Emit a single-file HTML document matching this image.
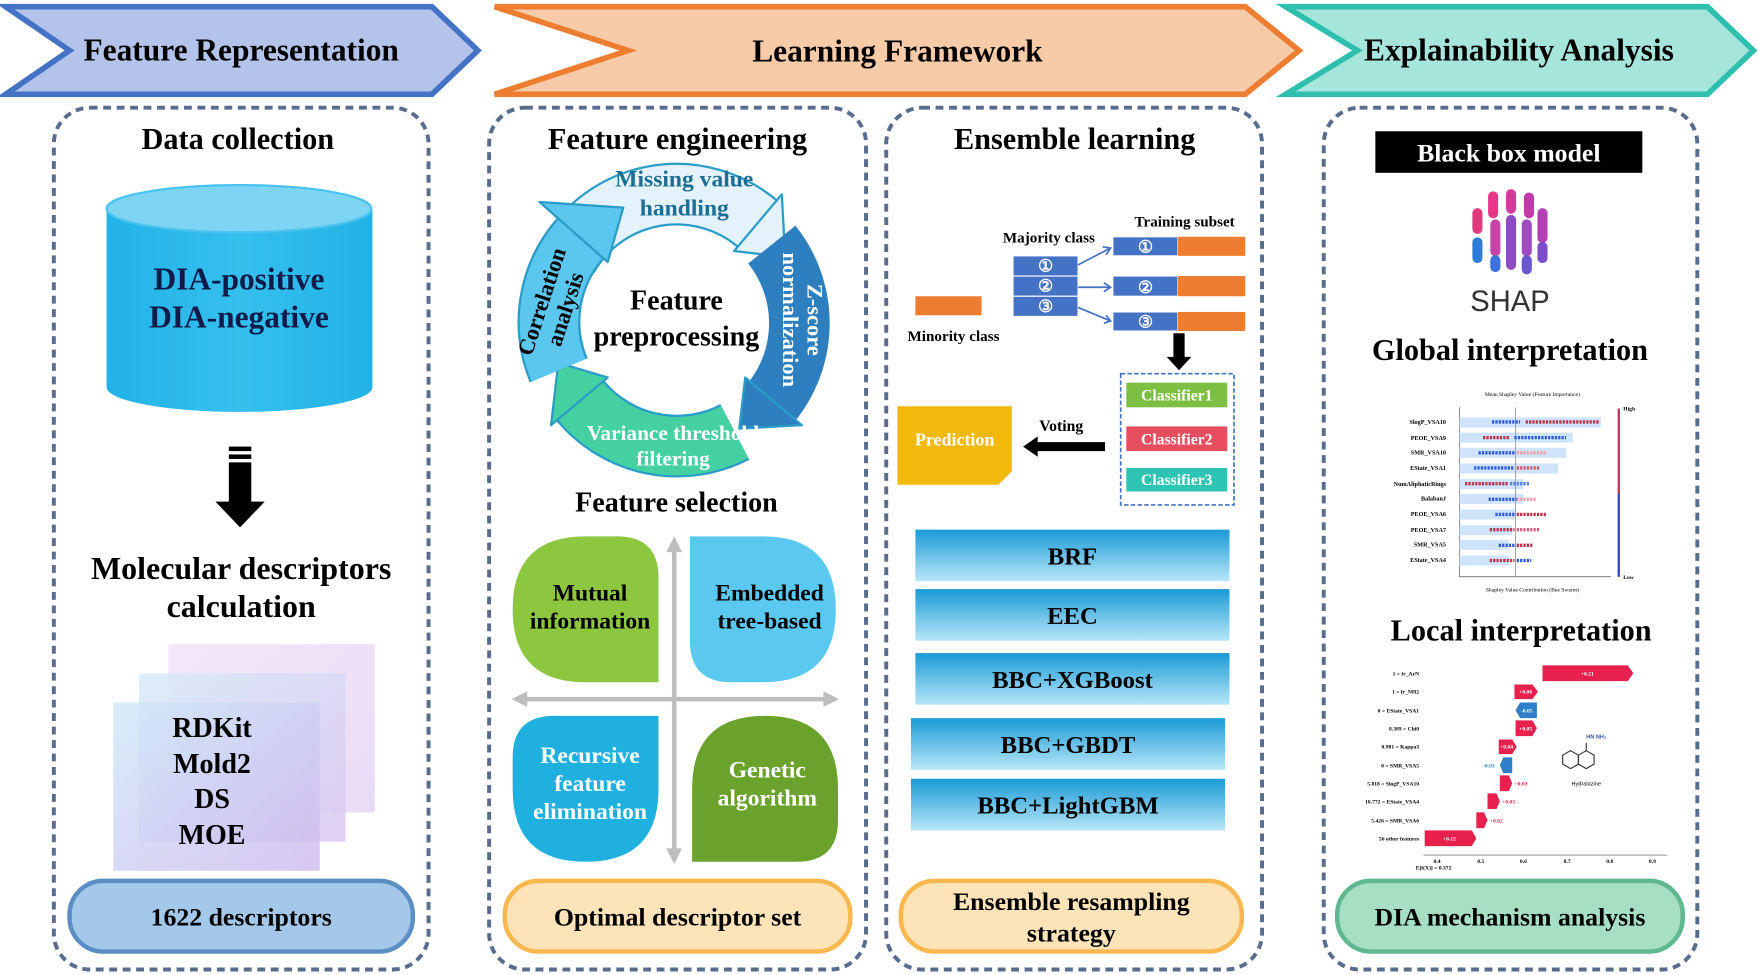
<!DOCTYPE html>
<html><head><meta charset="utf-8"><style>
html,body{margin:0;padding:0;background:#fff;width:1759px;height:974px;overflow:hidden}
svg{display:block}
text{font-family:"Liberation Serif",serif;font-weight:bold}
.s{font-family:"Liberation Sans",sans-serif}
</style></head><body>
<svg width="1759" height="974" viewBox="0 0 1568 868" preserveAspectRatio="none" xmlns="http://www.w3.org/2000/svg">
<defs>
<linearGradient id="btn" x1="0" y1="0" x2="0" y2="1"><stop offset="0" stop-color="#1a9ad6"/><stop offset="1" stop-color="#b8e6f8"/></linearGradient>
<linearGradient id="cyl" x1="0" y1="0" x2="1" y2="0"><stop offset="0" stop-color="#22b2e6"/><stop offset="0.5" stop-color="#35c0ee"/><stop offset="1" stop-color="#22b2e6"/></linearGradient>
<linearGradient id="lay1" x1="0" y1="0" x2="1" y2="1"><stop offset="0" stop-color="#f2e4f7"/><stop offset="1" stop-color="#e6d7f5"/></linearGradient>
<linearGradient id="lay2" x1="0" y1="0" x2="1" y2="1"><stop offset="0" stop-color="#d8eaf8"/><stop offset="1" stop-color="#d9c8f0"/></linearGradient>
<linearGradient id="lay3" x1="0" y1="0" x2="1" y2="1"><stop offset="0" stop-color="#cfe8f7"/><stop offset="1" stop-color="#cdb8ee"/></linearGradient>
</defs>
<!-- header chevrons -->
<polygon points="5,6 385,6 426,45 385,84 5,84 62,45" fill="#b4c3ea" stroke="#4472c4" stroke-width="5"/>
<text x="215" y="54" font-size="28" text-anchor="middle">Feature Representation</text>
<polygon points="441,6 1110,6 1158,45 1110,84 441,84 560,45" fill="#f8cba8" stroke="#ed7d31" stroke-width="5"/>
<text x="800" y="55" font-size="28" text-anchor="middle">Learning Framework</text>
<polygon points="1146,6 1522,6 1563,45 1522,84 1146,84 1210,45" fill="#a6e5dc" stroke="#2ebfae" stroke-width="5"/>
<text x="1354" y="54" font-size="28" text-anchor="middle">Explainability Analysis</text>
<!-- panels -->
<g fill="none" stroke="#5a6c8e" stroke-width="3.5" stroke-dasharray="7 5">
<rect x="48" y="96" width="334" height="768" rx="32"/>
<rect x="436" y="96" width="336" height="768" rx="32"/>
<rect x="790" y="96" width="335" height="768" rx="32"/>
<rect x="1180" y="96" width="333" height="768" rx="32"/>
</g>
<!-- panel 1 -->
<text x="212" y="133" font-size="27" text-anchor="middle">Data collection</text>
<path d="M95,186 L95,345 A118,22 0 0 0 332,345 L332,186 Z" fill="url(#cyl)"/>
<ellipse cx="213" cy="186" rx="118" ry="21" fill="#7ed4f3" stroke="#4ac3ee" stroke-width="2"/>
<text x="213" y="258" font-size="28" text-anchor="middle" fill="#0d1b4a">DIA-positive</text>
<text x="213" y="292" font-size="28" text-anchor="middle" fill="#0d1b4a">DIA-negative</text>
<rect x="204" y="398" width="20" height="4" fill="#000"/><rect x="204" y="405" width="20" height="4" fill="#000"/>
<polygon points="204,412 224,412 224,447 236,447 214,470 192,447 204,447" fill="#000"/>
<text x="215" y="516" font-size="28.5" text-anchor="middle">Molecular descriptors</text>
<text x="215" y="550" font-size="28.5" text-anchor="middle">calculation</text>
<rect x="150" y="574" width="184" height="150" fill="url(#lay1)" opacity="0.9"/>
<rect x="124" y="600" width="184" height="150" fill="url(#lay2)" opacity="0.85"/>
<rect x="101" y="626" width="184" height="150" fill="url(#lay3)" opacity="0.8"/>
<g font-size="25" text-anchor="middle"><text x="189" y="657">RDKit</text><text x="189" y="689">Mold2</text><text x="189" y="720">DS</text><text x="189" y="752">MOE</text></g>
<rect x="62" y="785" width="306" height="63" rx="30" fill="#a4c8ea" stroke="#5b8fc4" stroke-width="4"/>
<text x="215" y="825" font-size="23" text-anchor="middle">1622 descriptors</text>
<!-- panel 2 -->
<text x="604" y="133" font-size="27" text-anchor="middle">Feature engineering</text>
<g stroke="#2a9cc8" stroke-width="2" stroke-linejoin="round">
<path d="M506,229 A112,112 0 0 1 675,199.2" fill="none" stroke="#2a9cc8" stroke-width="56"/>
<path d="M506,229 A112,112 0 0 1 675,199.2" fill="none" stroke="#e4f2fb" stroke-width="52"/>
<polygon points="654.4,223.7 696.9,173.2 700,229" fill="#e4f2fb"/>
<path d="M688,218 A112,112 0 0 1 688.8,357" fill="none" stroke="#2e7fc0" stroke-width="54"/>
<polygon points="664.3,336.4 714.8,378.9 659,382" fill="#2e7fc0"/>
<path d="M655,385 A112,112 0 0 1 517.2,357" fill="none" stroke="#2a9cc8" stroke-width="56"/>
<path d="M655,385 A112,112 0 0 1 517.2,357" fill="none" stroke="#45d0a2" stroke-width="52"/>
<polygon points="541.7,336.4 491.2,378.9 497.7,323.3" fill="#45d0a2"/>
<path d="M498,330 A112,112 0 0 1 517.2,213" fill="none" stroke="#2a9cc8" stroke-width="56"/>
<path d="M498,330 A112,112 0 0 1 517.2,213" fill="none" stroke="#5bc6ee" stroke-width="52"/>
<polygon points="541.7,233.6 481,180 555.6,185" fill="#5bc6ee"/>
</g>
<text x="610" y="166" font-size="21" text-anchor="middle" fill="#1c6e94">Missing value</text>
<text x="610" y="192" font-size="21" text-anchor="middle" fill="#1c6e94">handling</text>
<g transform="translate(712,285) rotate(90)" font-size="20" fill="#fff" text-anchor="middle"><text x="0" y="-8">Z-score</text><text x="0" y="14">normalization</text></g>
<g transform="translate(493,272) rotate(-72)" font-size="20" fill="#000" text-anchor="middle"><text x="0" y="-4">Correlation</text><text x="0" y="18">analysis</text></g>
<text x="600" y="392" font-size="19" text-anchor="middle" fill="#fff">Variance threshold</text>
<text x="600" y="415" font-size="19" text-anchor="middle" fill="#fff">filtering</text>
<text x="603" y="276" font-size="25" text-anchor="middle">Feature</text>
<text x="603" y="308" font-size="25" text-anchor="middle">preprocessing</text>
<text x="603" y="456" font-size="25" text-anchor="middle">Feature selection</text>
<line x1="601" y1="485" x2="601" y2="765" stroke="#bdbdbd" stroke-width="4"/>
<line x1="462" y1="623" x2="742" y2="623" stroke="#bdbdbd" stroke-width="4"/>
<polygon points="601,478 594,492 608,492" fill="#bdbdbd"/><polygon points="601,770 594,756 608,756" fill="#bdbdbd"/>
<polygon points="456,623 470,616 470,630" fill="#bdbdbd"/><polygon points="748,623 734,616 734,630" fill="#bdbdbd"/>
<path d="M522,478 L550,478 Q587,478 587,515 L587,608 L522,608 Q457,608 457,543 Q457,478 522,478 Z" fill="#8dc63f"/>
<path d="M615,478 L680,478 Q745,478 745,543 Q745,608 680,608 L652,608 Q615,608 615,571 Z" fill="#5ac8ef"/>
<path d="M494,638 L587,638 L587,703 Q587,768 522,768 Q457,768 457,703 L457,675 Q457,638 494,638 Z" fill="#1fb0e0"/>
<path d="M682,638 Q747,638 747,703 L747,731 Q747,768 710,768 L617,768 L617,703 Q617,638 682,638 Z" fill="#6aa22c"/>
<g font-size="21" text-anchor="middle"><text x="526" y="535">Mutual</text><text x="526" y="560">information</text>
<text x="686" y="535">Embedded</text><text x="686" y="560">tree-based</text>
<g fill="#fff"><text x="526" y="680">Recursive</text><text x="526" y="705">feature</text><text x="526" y="730">elimination</text>
<text x="684" y="693">Genetic</text><text x="684" y="718">algorithm</text></g></g>
<rect x="450" y="785" width="308" height="63" rx="30" fill="#fde3b8" stroke="#f8b84e" stroke-width="4"/>
<text x="604" y="825" font-size="23" text-anchor="middle">Optimal descriptor set</text>
<!-- panel 3 -->
<text x="958" y="133" font-size="27" text-anchor="middle">Ensemble learning</text>
<text x="1056" y="202" font-size="13.5" text-anchor="middle">Training subset</text>
<text x="935" y="216" font-size="13.5" text-anchor="middle">Majority class</text>
<text x="850" y="304" font-size="13.5" text-anchor="middle">Minority class</text>
<rect x="816" y="264" width="59" height="17" fill="#ed7d31"/>
<g fill="#4472c4" stroke="#fff" stroke-width="1"><rect x="903" y="228" width="58" height="18"/><rect x="903" y="246" width="58" height="18"/><rect x="903" y="264" width="58" height="18"/>
<rect x="992" y="211" width="58" height="17"/><rect x="992" y="246" width="58" height="18"/><rect x="992" y="278" width="58" height="17"/></g>
<g fill="#ed7d31"><rect x="1050" y="211" width="60" height="17"/><rect x="1050" y="246" width="60" height="18"/><rect x="1050" y="278" width="60" height="17"/></g>
<g font-size="15" fill="#fff" text-anchor="middle" class="s" style="font-weight:normal"><text x="932" y="242" class="s">①</text><text x="932" y="260" class="s">②</text><text x="932" y="278" class="s">③</text>
<text x="1021" y="225" class="s">①</text><text x="1021" y="261" class="s">②</text><text x="1021" y="292" class="s">③</text></g>
<g stroke="#4472c4" stroke-width="1.5" fill="none"><path d="M961,236 L990,221 M983,220 L990,221 L986,227"/><path d="M961,256 L990,256 M984,252 L990,256 L984,260"/><path d="M961,274 L990,286 M986,281 L990,286 L984,288"/></g>
<polygon points="1046,297 1056,297 1056,318 1062,318 1051,330 1040,318 1046,318" fill="#000"/>
<rect x="999" y="333" width="101" height="117" fill="none" stroke="#4472c4" stroke-width="1.5" stroke-dasharray="4 2"/>
<rect x="1004" y="341" width="90" height="22" fill="#7cbf42"/><rect x="1004" y="380" width="90" height="22" fill="#e64d5f"/><rect x="1004" y="417" width="90" height="21" fill="#2ec4b4"/>
<g font-size="14" fill="#fff" text-anchor="middle"><text x="1049" y="357">Classifier1</text><text x="1049" y="396">Classifier2</text><text x="1049" y="432">Classifier3</text></g>
<polygon points="800,362 902,362 902,420 890,432 800,432" fill="#f0b90c"/>
<text x="851" y="397" font-size="16" fill="#fff" text-anchor="middle">Prediction</text>
<text x="946" y="384" font-size="14" text-anchor="middle">Voting</text>
<polygon points="985,394 925,394 925,389 912,398 925,407 925,402 985,402" fill="#000"/>
<g fill="url(#btn)"><rect x="816" y="472" width="280" height="46"/><rect x="816" y="525" width="280" height="46"/><rect x="816" y="582" width="280" height="46"/><rect x="812" y="640" width="280" height="46"/><rect x="812" y="694" width="280" height="46"/></g>
<g font-size="22" text-anchor="middle"><text x="956" y="503">BRF</text><text x="956" y="556">EEC</text><text x="956" y="613">BBC+XGBoost</text><text x="952" y="671">BBC+GBDT</text><text x="952" y="725">BBC+LightGBM</text></g>
<rect x="803" y="785" width="304" height="63" rx="30" fill="#fde3b8" stroke="#f8b84e" stroke-width="4"/>
<text x="955" y="811" font-size="23" text-anchor="middle">Ensemble resampling</text>
<text x="955" y="839" font-size="23" text-anchor="middle">strategy</text>
<!-- panel 4 -->
<rect x="1226" y="117" width="238" height="37" fill="#000"/>
<text x="1345" y="144" font-size="23" fill="#fff" text-anchor="middle">Black box model</text>
<g stroke-linecap="round" stroke-width="9">
<line x1="1331" y1="175" x2="1331" y2="190" stroke="#e9358a"/><line x1="1347" y1="173" x2="1347" y2="186" stroke="#d43b9a"/><line x1="1363" y1="176" x2="1363" y2="190" stroke="#c23aa8"/>
<line x1="1317" y1="190" x2="1317" y2="204" stroke="#e03a7c"/><line x1="1333" y1="200" x2="1333" y2="224" stroke="#c445a8"/><line x1="1347" y1="196" x2="1347" y2="236" stroke="#8e4ac2"/><line x1="1361" y1="200" x2="1361" y2="224" stroke="#9d4bbe"/><line x1="1375" y1="190" x2="1375" y2="212" stroke="#b23fb4"/>
<line x1="1317" y1="216" x2="1317" y2="230" stroke="#2f7bd8"/><line x1="1333" y1="232" x2="1333" y2="238" stroke="#3a70e0"/><line x1="1361" y1="232" x2="1361" y2="240" stroke="#6a56d0"/><line x1="1375" y1="220" x2="1375" y2="230" stroke="#7b4dcc"/>
</g>
<text x="1346" y="277" font-size="26" class="s" style="font-weight:normal" fill="#333" text-anchor="middle">SHAP</text>
<text x="1346" y="321" font-size="27" text-anchor="middle">Global interpretation</text>
<!-- beeswarm -->
<text x="1366" y="353" font-size="5" text-anchor="middle" style="font-weight:normal">Mean Shapley Value (Feature Importance)</text>
<line x1="1301" y1="363" x2="1301" y2="514" stroke="#555" stroke-width="0.6"/><line x1="1301" y1="514" x2="1436" y2="514" stroke="#555" stroke-width="0.6"/>
<g fill="#cfe4fb">
<rect x="1301" y="372" width="126" height="9"/><rect x="1301" y="385.5" width="101" height="9"/><rect x="1301" y="399" width="95" height="9"/><rect x="1301" y="413" width="88" height="9"/><rect x="1301" y="427" width="57" height="9"/><rect x="1301" y="440" width="57" height="9"/><rect x="1301" y="454" width="50" height="9"/><rect x="1301" y="468" width="47" height="9"/><rect x="1301" y="481" width="44" height="9"/><rect x="1301" y="495" width="44" height="9"/></g>
<line x1="1351" y1="363" x2="1351" y2="514" stroke="#999" stroke-width="0.8"/>
<g stroke-width="3" stroke-dasharray="2 1">
<line x1="1330" y1="376" x2="1355" y2="376" stroke="#2d5be0"/><line x1="1360" y1="376" x2="1425" y2="376" stroke="#c0304a"/>
<line x1="1322" y1="390" x2="1345" y2="390" stroke="#c0304a"/><line x1="1350" y1="390" x2="1396" y2="390" stroke="#2d5be0"/>
<line x1="1318" y1="403.5" x2="1350" y2="403.5" stroke="#2d5be0"/><line x1="1352" y1="403.5" x2="1378" y2="403.5" stroke="#f0a0a8"/>
<line x1="1314" y1="417" x2="1350" y2="417" stroke="#2d5be0"/><line x1="1352" y1="417" x2="1372" y2="417" stroke="#d05a70"/>
<line x1="1306" y1="431" x2="1345" y2="431" stroke="#c0304a"/><line x1="1346" y1="431" x2="1364" y2="431" stroke="#5a7fe8"/>
<line x1="1327" y1="445" x2="1352" y2="445" stroke="#2d5be0"/><line x1="1352" y1="445" x2="1370" y2="445" stroke="#e8a0b0"/>
<line x1="1333" y1="458.5" x2="1350" y2="458.5" stroke="#2d5be0"/><line x1="1352" y1="458.5" x2="1378" y2="458.5" stroke="#c0304a"/>
<line x1="1328" y1="472" x2="1350" y2="472" stroke="#c0304a"/><line x1="1352" y1="472" x2="1372" y2="472" stroke="#d06080"/>
<line x1="1336" y1="486" x2="1350" y2="486" stroke="#2d5be0"/><line x1="1352" y1="486" x2="1367" y2="486" stroke="#c0304a"/>
<line x1="1328" y1="499.5" x2="1350" y2="499.5" stroke="#c0304a"/><line x1="1352" y1="499.5" x2="1365" y2="499.5" stroke="#2d5be0"/>
</g>
<g font-size="5.5" text-anchor="end"><text x="1289" y="378">SlogP_VSA10</text><text x="1289" y="392">PEOE_VSA9</text><text x="1289" y="405">SMR_VSA10</text><text x="1289" y="419">EState_VSA1</text><text x="1289" y="433">NumAliphaticRings</text><text x="1289" y="446">BalabanJ</text><text x="1289" y="460">PEOE_VSA6</text><text x="1289" y="474">PEOE_VSA7</text><text x="1289" y="487">SMR_VSA5</text><text x="1289" y="501">EState_VSA4</text></g>
<text x="1366" y="527" font-size="5" text-anchor="middle" style="font-weight:normal">Shapley Value Contribution (Bee Swarm)</text>
<rect x="1442" y="364" width="2" height="150" fill="#c03050"/><rect x="1442" y="440" width="2" height="74" fill="#3050d0"/>
<text x="1447" y="366" font-size="5">High</text><text x="1447" y="516" font-size="5">Low</text>
<!-- waterfall -->
<text x="1356" y="571" font-size="27" text-anchor="middle">Local interpretation</text>
<g fill="#e8204e">
<polygon points="1375,593 1451,593 1456,600 1451,607 1375,607"/>
<polygon points="1350,610 1366,610 1371,616.5 1366,623 1350,623"/>
<polygon points="1351,642 1366,642 1370,649 1366,656 1351,656"/>
<polygon points="1336,659 1348,659 1352,665.5 1348,672 1336,672"/>
<polygon points="1337,691 1345,691 1348,698 1345,705 1337,705"/>
<polygon points="1326,707 1334,707 1337,714 1334,721 1326,721"/>
<polygon points="1316,724 1323,724 1326,731 1323,738 1316,738"/>
<polygon points="1270,740 1312,740 1316,747 1312,754 1270,754"/></g>
<g fill="#2e7ec8"><polygon points="1355,626 1370,626 1370,640 1355,640 1351,633"/><polygon points="1340,675 1348,675 1348,689 1340,689 1337,682"/></g>
<g font-size="5" fill="#fff" text-anchor="middle"><text x="1415" y="602">+0.21</text><text x="1360" y="618">+0.06</text><text x="1361" y="635">-0.05</text><text x="1360" y="651">+0.05</text><text x="1343" y="667">+0.04</text><text x="1292" y="749">+0.12</text></g>
<g font-size="5" fill="#e8204e"><text x="1350" y="700">+0.03</text><text x="1339" y="716">+0.03</text><text x="1328" y="733">+0.02</text></g>
<text x="1322" y="684" font-size="5" fill="#2e7ec8">-0.03</text>
<g font-size="5" text-anchor="end"><text x="1265" y="602">1 = fr_ArN</text><text x="1265" y="618">1 = fr_NH2</text><text x="1265" y="635">0 = EState_VSA1</text><text x="1265" y="651">8.389 = Chi0</text><text x="1265" y="667">0.981 = Kappa3</text><text x="1265" y="684">0 = SMR_VSA5</text><text x="1265" y="700">5.818 = SlogP_VSA10</text><text x="1265" y="716">10.772 = EState_VSA4</text><text x="1265" y="733">5.426 = SMR_VSA6</text><text x="1265" y="749">56 other features</text></g>
<line x1="1269" y1="762" x2="1486" y2="762" stroke="#555" stroke-width="0.6"/>
<g font-size="5" text-anchor="middle"><text x="1281" y="769">0.4</text><text x="1320" y="769">0.5</text><text x="1358" y="769">0.6</text><text x="1397" y="769">0.7</text><text x="1435" y="769">0.8</text><text x="1473" y="769">0.9</text></g>
<text x="1262" y="775" font-size="5">E[f(X)] = 0.372</text>
<g stroke="#333" stroke-width="1" fill="none"><polygon points="1393,673 1400,669 1407,673 1407,681 1400,685 1393,681"/><polygon points="1407,673 1414,669 1421,673 1421,681 1414,685 1407,681"/><line x1="1414" y1="669" x2="1414" y2="662"/></g>
<text x="1414" y="658" font-size="5" fill="#3355aa" class="s">HN NH₂</text>
<text x="1414" y="700" font-size="5" text-anchor="middle" class="s" style="font-weight:normal">Hydralazine</text>
<rect x="1192" y="785" width="308" height="63" rx="30" fill="#a6dfc4" stroke="#5fb88f" stroke-width="4"/>
<text x="1346" y="825" font-size="23" text-anchor="middle">DIA mechanism analysis</text>
</svg>
</body></html>
